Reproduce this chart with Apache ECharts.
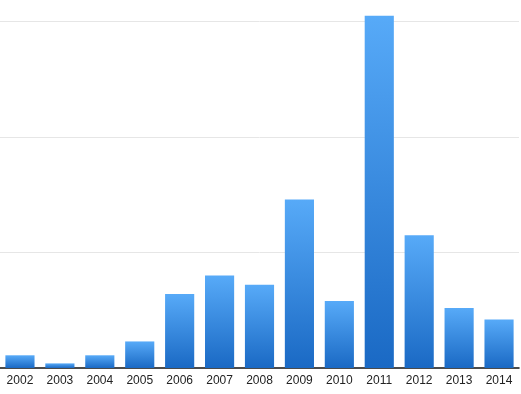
<!DOCTYPE html>
<html>
<head>
<meta charset="utf-8">
<script src="https://cdn.jsdelivr.net/npm/echarts@6/dist/echarts.min.js"></script>
<style>
html,body{margin:0;padding:0;background:#fff;}
#chart{width:521px;height:394px;}
</style>
</head>
<body>
<div id="chart"></div>
<script>
const categories = ['2002','2003','2004','2005','2006','2007','2008','2009','2010','2011','2012','2013','2014'];
const values = [11, 4, 11, 23, 64, 80, 72, 146, 58, 305, 115, 52, 42];

const chart = echarts.init(document.getElementById('chart'), null, {renderer: 'canvas'});
chart.setOption({
  animation: false,
  grid: {left: 0, right: 2, top: 10, bottom: 26, containLabel: false},
  xAxis: {
    type: 'category',
    data: categories,
    axisLine: {show: true, lineStyle: {color: '#111', width: 1.5}},
    axisTick: {show: false},
    axisLabel: {color: '#222', fontSize: 12, fontFamily: 'Liberation Sans, Arial, sans-serif', margin: 7}
  },
  yAxis: {
    type: 'value',
    min: 0,
    max: 310,
    interval: 100,
    axisLabel: {show: false},
    axisLine: {show: false},
    axisTick: {show: false},
    splitLine: {show: true, showMinLine: false, showMaxLine: false, lineStyle: {color: '#e6e6e6', width: 1}}
  },
  series: [{
    type: 'bar',
    data: values,
    barCategoryGap: '27%',
    itemStyle: {
      color: {
        type: 'linear', x: 0, y: 0, x2: 0, y2: 1,
        colorStops: [
          {offset: 0, color: '#57aaf8'},
          {offset: 1, color: '#1a69c4'}
        ]
      }
    }
  }]
});
</script>
</body>
</html>
